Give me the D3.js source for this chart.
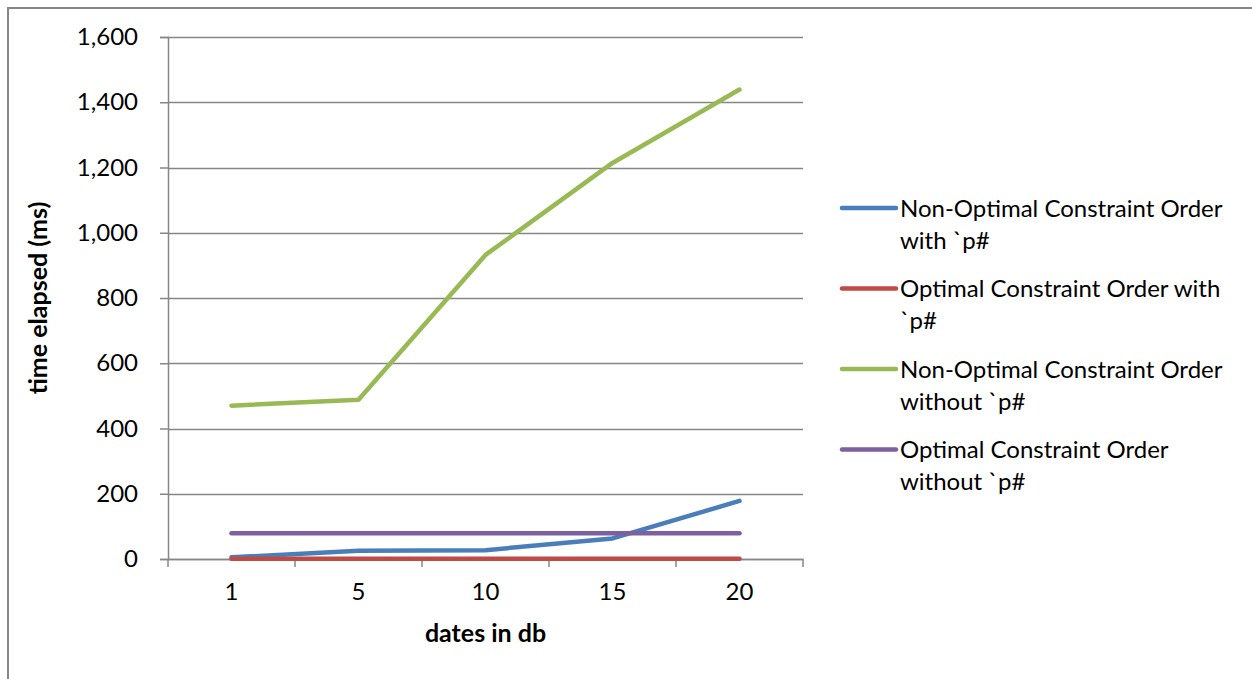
<!DOCTYPE html>
<html><head><meta charset="utf-8">
<script src="https://cdn.jsdelivr.net/npm/d3@7"></script>
<style>
html,body{margin:0;padding:0;background:#fff;}
svg{display:block;font-family:Lato,"Open Sans",sans-serif;}
</style></head>
<body><svg id="c" width="1252" height="679"></svg>
<script>
const categories = ["1", "5", "10", "15", "20"];
const seriesNames = [
  ["Non-Optimal Constraint Order", "with `p#"],
  ["Optimal Constraint Order with", "`p#"],
  ["Non-Optimal Constraint Order", "without `p#"],
  ["Optimal Constraint Order", "without `p#"]
];
const nonOptimalWith = [5, 25, 27, 63, 178];
const optimalWith = [1, 1, 1, 1, 1];
const nonOptimalWithout = [470, 488, 932, 1214, 1439];
const optimalWithout = [79, 79, 79, 79, 79];
const seriesColors = ["#4a7ebb", "#be4b48", "#98b954", "#7d60a0"];
const yTicks = [0, 200, 400, 600, 800, 1000, 1200, 1400, 1600];

const series = [nonOptimalWith, optimalWith, nonOptimalWithout, optimalWithout];

const svg = d3.select("#c");
const L = 168, R = 803, T = 37, B = 559;
const grid = "#868686";
const FS = 24;

// outer frame
svg.append("rect").attr("x", 8).attr("y", 8).attr("width", 1300).attr("height", 700)
  .attr("fill", "none").attr("stroke", grid).attr("stroke-width", 2);

const x = d3.scaleBand().domain(categories).range([L, R]);
const y = d3.scaleLinear().domain([0, 1600]).range([B, T]);

// gridlines
svg.append("g").selectAll("line").data(yTicks).join("line")
  .attr("x1", L).attr("x2", R)
  .attr("y1", d => Math.round(y(d)) + 0.5).attr("y2", d => Math.round(y(d)) + 0.5)
  .attr("stroke", grid).attr("stroke-width", 1.5);

// y axis
const yAxis = svg.append("g").attr("transform", `translate(${L},0)`)
  .call(d3.axisLeft(y).tickValues(yTicks).tickSize(8).tickPadding(22).tickFormat(d3.format(",")));
yAxis.select(".domain").attr("stroke", grid).attr("stroke-width", 1.5);
yAxis.selectAll(".tick line").attr("stroke", grid).attr("stroke-width", 1.5);
yAxis.selectAll("text").attr("font-size", FS).attr("fill", "#000").attr("font-family", "Lato,'Open Sans',sans-serif");

// x axis
const xAxis = svg.append("g").attr("transform", `translate(0,${B})`)
  .call(d3.axisBottom(x).tickSize(0).tickPadding(24));
xAxis.select(".domain").attr("stroke", grid).attr("stroke-width", 1.5);
xAxis.selectAll("text").attr("font-size", FS).attr("fill", "#000").attr("font-family", "Lato,'Open Sans',sans-serif");
const bounds = categories.map(c => x(c)).concat([R]);
svg.append("g").selectAll("line").data(bounds).join("line")
  .attr("x1", d => d).attr("x2", d => d).attr("y1", B).attr("y2", B + 8)
  .attr("stroke", grid).attr("stroke-width", 1.5);

// series lines
const line = d3.line().x((d, i) => x(categories[i]) + x.bandwidth() / 2).y(d => y(d));
series.forEach((s, k) => {
  svg.append("path").datum(s).attr("d", line).attr("fill", "none")
    .attr("stroke", seriesColors[k]).attr("stroke-width", 4.5)
    .attr("stroke-linecap", "round").attr("stroke-linejoin", "round");
});

// axis titles
svg.append("text").attr("x", (L + R) / 2).attr("y", 642).attr("text-anchor", "middle")
  .attr("font-size", 25).attr("font-weight", "bold").text("dates in db");
svg.append("text").attr("transform", `translate(47,${(T + B) / 2}) rotate(-90)`)
  .attr("text-anchor", "middle").attr("font-size", 25).attr("font-weight", "bold").text("time elapsed (ms)");

// legend
const lg = svg.append("g");
seriesNames.forEach((nm, k) => {
  const cy = 208 + k * 80.5;
  lg.append("line").attr("x1", 842).attr("x2", 896).attr("y1", cy).attr("y2", cy)
    .attr("stroke", seriesColors[k]).attr("stroke-width", 4.5).attr("stroke-linecap", "round");
  nm.forEach((t, j) => {
    lg.append("text").attr("x", 900).attr("y", cy + 8.5 + j * 32).attr("font-size", FS).attr("fill", "#000").text(t);
  });
});
</script></body></html>
